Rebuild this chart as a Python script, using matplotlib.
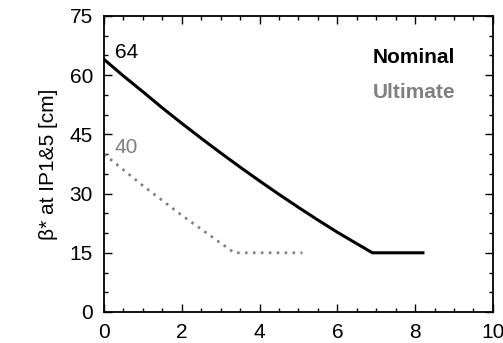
import matplotlib
matplotlib.use("Agg")
import matplotlib.pyplot as plt
from matplotlib.ticker import MultipleLocator

plt.rcParams["font.family"] = ["Liberation Sans", "DejaVu Sans"]

# Data
nominal_x = [0, 0.5, 1, 1.5, 2, 2.5, 3, 3.5, 4, 4.5, 5, 5.5, 6, 6.5, 6.9, 8.2]
nominal_y = [64, 59.8, 55.8, 51.7, 47.8, 44.0, 40.3, 36.7, 33.2, 29.8,
             26.5, 23.3, 20.2, 17.3, 15, 15]
ultimate_x = [0, 1, 2, 3.35, 5.1]
ultimate_y = [40, 32, 24.5, 15, 15]
start_labels = {"64": (64, "black"), "40": (40, "#808080")}

fig = plt.figure(figsize=(5.03, 3.43), dpi=100)
ax = fig.add_axes([0.2068, 0.0904, 0.7732, 0.863])

ax.plot(nominal_x, nominal_y, color="black", lw=2.2, solid_joinstyle="miter")
ax.plot(ultimate_x, ultimate_y, color="#808080", lw=1.9, linestyle=(0, (1, 2)))

for txt, (yv, col) in start_labels.items():
    ax.text(0.28, yv + 1.8, txt, color=col, fontsize=15, va="center", ha="left")

ax.text(0.69, 0.861, "Nominal", transform=ax.transAxes, fontsize=15,
        fontweight="bold", color="black", va="center", ha="left")
ax.text(0.69, 0.74, "Ultimate", transform=ax.transAxes, fontsize=15,
        fontweight="bold", color="#808080", va="center", ha="left")

ax.set_xlim(0, 10)
ax.set_ylim(0, 75)
ax.xaxis.set_major_locator(MultipleLocator(2))
ax.xaxis.set_minor_locator(MultipleLocator(0.5))
ax.yaxis.set_major_locator(MultipleLocator(15))
ax.yaxis.set_minor_locator(MultipleLocator(5))
ax.tick_params(which="both", direction="in", top=True, right=True, width=1)
ax.tick_params(which="major", length=6, labelsize=15, pad=8)
ax.tick_params(which="minor", length=3)
for s in ax.spines.values():
    s.set_linewidth(1.3)

ax.set_ylabel("β* at IP1&5 [cm]", fontsize=15, labelpad=8)

fig.savefig("out.png", dpi=100)
